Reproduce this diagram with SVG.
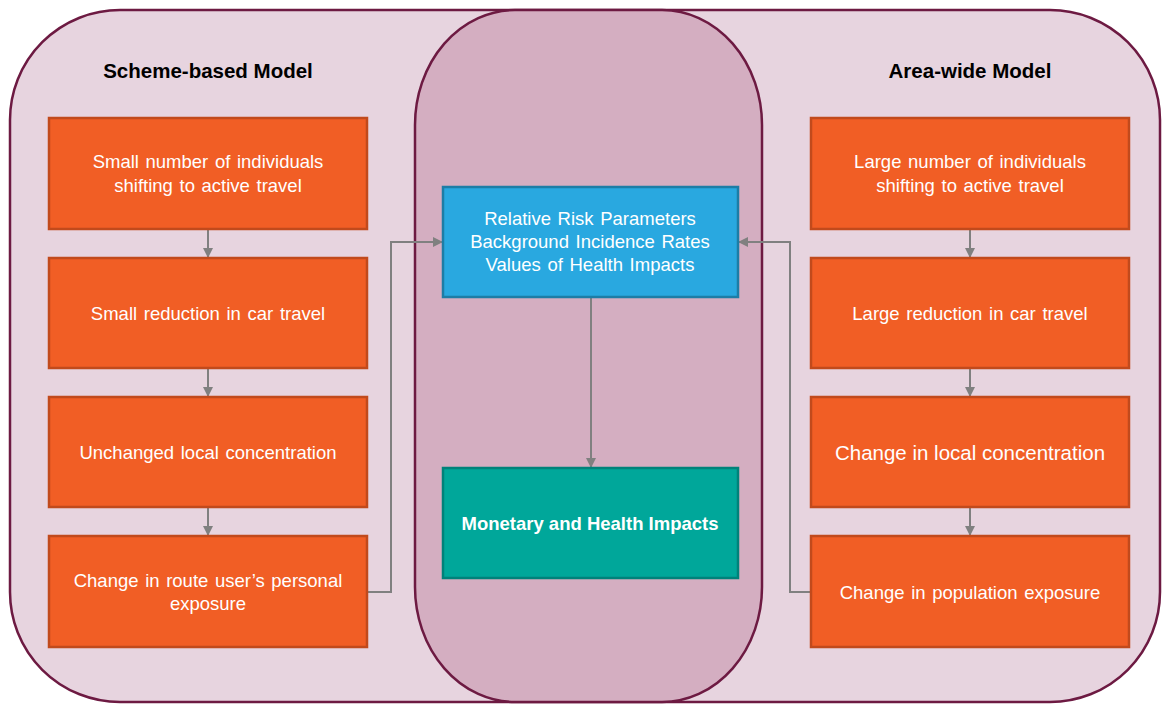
<svg xmlns="http://www.w3.org/2000/svg" width="1162" height="704" viewBox="0 0 1162 704">
<defs>
<marker id="ah" markerWidth="10" markerHeight="10" refX="9" refY="5" orient="auto" markerUnits="userSpaceOnUse">
<path d="M0,0 L10,5 L0,10 Z" fill="#808080"/>
</marker>
<style>
.or{fill:#F15E25;stroke:#C14A1C;stroke-width:2.5}
.bl{fill:#29A8E0;stroke:#1D7DA6;stroke-width:2.5}
.gr{fill:#00A79A;stroke:#00827A;stroke-width:2.5}
.t{font-family:"Liberation Sans",Arial,sans-serif;font-size:18.5px;word-spacing:1.5px;fill:#FFFFFF;text-anchor:middle}
.h{font-family:"Liberation Sans",Arial,sans-serif;font-size:20.5px;font-weight:bold;fill:#000000;text-anchor:middle}
.c{fill:none;stroke:#808080;stroke-width:2}
</style>
</defs>
<rect width="1162" height="704" fill="#FFFFFF"/>
<rect id="outer" x="10" y="10" width="1150" height="692" rx="110" ry="110" fill="#E7D4DF" stroke="#6D1A42" stroke-width="2.5"/>
<rect id="center" x="415" y="10" width="347" height="692" rx="100" ry="115" fill="#D4AEC1" stroke="#6D1A42" stroke-width="2.5"/>
<text class="h" x="208" y="78">Scheme-based Model</text>
<text class="h" x="970" y="78">Area-wide Model</text>
<g id="connectors">
<line class="c" x1="208" y1="229" x2="208" y2="257" marker-end="url(#ah)"/>
<line class="c" x1="208" y1="368" x2="208" y2="396" marker-end="url(#ah)"/>
<line class="c" x1="208" y1="507" x2="208" y2="535" marker-end="url(#ah)"/>
<line class="c" x1="970" y1="229" x2="970" y2="257" marker-end="url(#ah)"/>
<line class="c" x1="970" y1="368" x2="970" y2="396" marker-end="url(#ah)"/>
<line class="c" x1="970" y1="507" x2="970" y2="535" marker-end="url(#ah)"/>
<polyline class="c" points="367,592 391,592 391,242 442,242" marker-end="url(#ah)"/>
<polyline class="c" points="811,592 790,592 790,242 739,242" marker-end="url(#ah)"/>
<line class="c" x1="591" y1="297" x2="591" y2="467" marker-end="url(#ah)"/>
</g>
<g id="s1"><rect class="or" x="49" y="118" width="318" height="111"/>
<text class="t" x="208" y="168">Small number of individuals</text><text class="t" x="208" y="192">shifting to active travel</text></g>
<g id="s2"><rect class="or" x="49" y="258" width="318" height="110"/>
<text class="t" x="208" y="320">Small reduction in car travel</text></g>
<g id="s3"><rect class="or" x="49" y="397" width="318" height="110"/>
<text class="t" x="208" y="459">Unchanged local concentration</text></g>
<g id="s4"><rect class="or" x="49" y="536" width="318" height="111"/>
<text class="t" x="208" y="587">Change in route user’s personal</text><text class="t" x="208" y="610">exposure</text></g>
<g id="a1"><rect class="or" x="811" y="118" width="318" height="111"/>
<text class="t" x="970" y="168">Large number of individuals</text><text class="t" x="970" y="192">shifting to active travel</text></g>
<g id="a2"><rect class="or" x="811" y="258" width="318" height="110"/>
<text class="t" x="970" y="320">Large reduction in car travel</text></g>
<g id="a3"><rect class="or" x="811" y="397" width="318" height="110"/>
<text class="t" x="970" y="460" style="font-size:20.5px;word-spacing:0">Change in local concentration</text></g>
<g id="a4"><rect class="or" x="811" y="536" width="318" height="111"/>
<text class="t" x="970" y="599">Change in population exposure</text></g>
<g id="risk"><rect class="bl" x="443" y="187" width="295" height="110"/>
<text class="t" x="590" y="225">Relative Risk Parameters</text><text class="t" x="590" y="248">Background Incidence Rates</text><text class="t" x="590" y="271">Values of Health Impacts</text></g>
<g id="impacts"><rect class="gr" x="443" y="468" width="295" height="110"/>
<text class="t" x="590" y="530" style="font-weight:bold;word-spacing:0">Monetary and Health Impacts</text></g>
</svg>
